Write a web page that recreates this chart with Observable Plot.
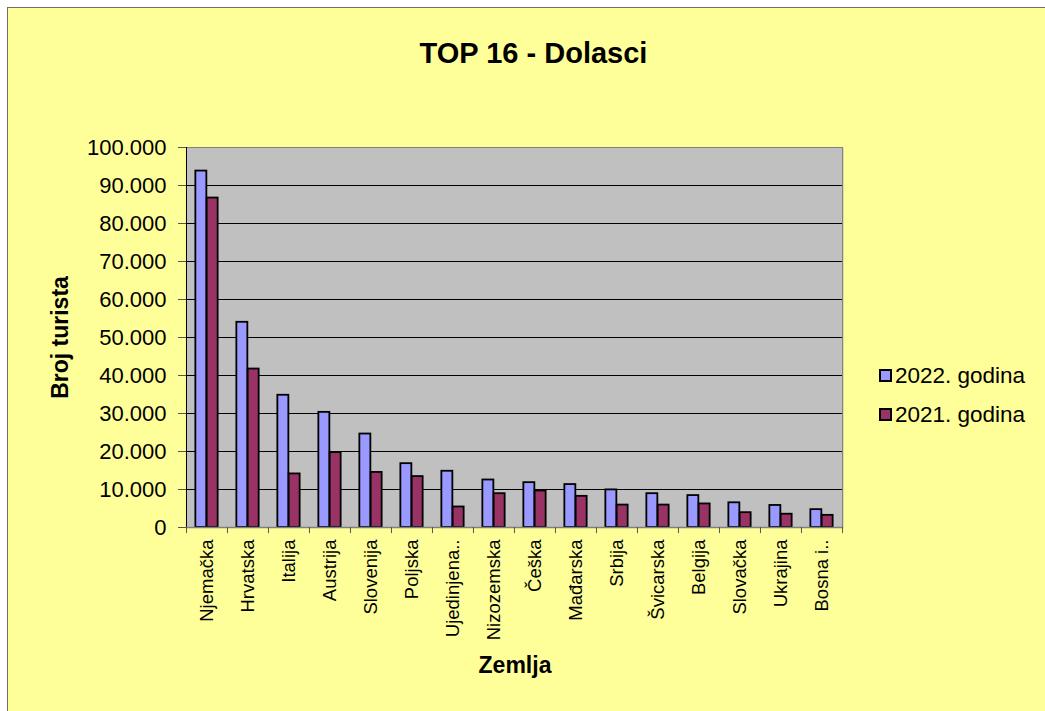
<!DOCTYPE html>
<html><head><meta charset="utf-8">
<script src="https://cdn.jsdelivr.net/npm/d3@7"></script>
<script src="https://cdn.jsdelivr.net/npm/@observablehq/plot@0.6"></script>
<style>
body{margin:0;background:#fff;width:1045px;height:711px;overflow:hidden;position:relative;font-family:"Liberation Sans",Arial,sans-serif;}
#bg{position:absolute;left:7px;top:7px;width:1050px;height:720px;background:#FFFF99;border:1.5px solid #6e6e6e;}
#chart{position:absolute;left:0;top:0;}
#title{position:absolute;left:0;width:1067px;top:37px;text-align:center;font-weight:bold;font-size:29px;color:#000;}
#legend{position:absolute;left:879px;top:356px;font-size:22.5px;color:#000;}
.row{display:flex;align-items:center;height:39px;}
.sw{width:9px;height:9px;border:2px solid #000;margin-right:3px;}
</style>
</head><body>
<div id="bg"></div>
<div id="chart"></div>
<div id="title">TOP 16 - Dolasci</div>
<div id="legend"></div>
<script>
const countries = ["Njemačka","Hrvatska","Italija","Austrija","Slovenija","Poljska","Ujedinjena..","Nizozemska","Češka","Mađarska","Srbija","Švicarska","Belgija","Slovačka","Ukrajina","Bosna i.."];
const v2022 = [93800,54000,34800,30300,24600,16800,14800,12500,11800,11300,9900,8900,8400,6500,5800,4700];
const v2021 = [86700,41700,14100,19700,14500,13400,5400,8900,9600,8200,5900,5900,6200,3900,3500,3200];
const seriesNames = ["2022. godina","2021. godina"];
const seriesColors = ["#9999FF","#993366"];
const yTicks = [0,10000,20000,30000,40000,50000,60000,70000,80000,90000,100000];

const W = 1045, H = 711, mL = 186, mR = 202, mT = 147, mB = 184;
const step = (W - mL - mR) / countries.length;
const padInner = 0.725;
const bw = step * (1 - padInner);

const rows = countries.map((c,i)=>({country:c, a:v2022[i], b:v2021[i]}));
const fmt = d => d3.format(",")(d).replace(/,/g,".");

const plot = Plot.plot({
  width: W, height: H,
  marginLeft: mL, marginRight: mR, marginTop: mT, marginBottom: mB,
  style: {background:"transparent", fontFamily:"'Liberation Sans', Arial, sans-serif", color:"#000"},
  x: {domain: countries, paddingInner: padInner, paddingOuter: padInner/2, label: null},
  y: {domain: [0,100000], label: null},
  marks: [
    Plot.frame({fill:"#C0C0C0", stroke:"none"}),
    Plot.ruleY(yTicks.filter(d=>d>0 && d<100000), {stroke:"#000", strokeWidth:1}),
    Plot.barY(rows, {x:"country", y:"a", dx:-bw/2, fill:seriesColors[0], stroke:"#000", strokeWidth:1.8}),
    Plot.barY(rows, {x:"country", y:"b", dx:bw/2, fill:seriesColors[1], stroke:"#000", strokeWidth:1.8}),
    Plot.ruleY([100000], {stroke:"#808080"}),
    Plot.ruleX([countries[countries.length-1]], {dx: step/2, y1:0, y2:100000, stroke:"#808080"}),
    Plot.ruleX([countries[0]], {dx: -step/2, y1:0, y2:100000, stroke:"#000"}),
    Plot.ruleY([0], {stroke:"#808080", strokeWidth:1.5}),
    Plot.ruleX(countries, {dx:-step/2, y1:0, y2:-1600, stroke:"#555"}),
    Plot.ruleX([countries[countries.length-1]], {dx:step/2, y1:0, y2:-1600, stroke:"#555"}),
    Plot.axisY({ticks: yTicks, tickFormat: fmt, tickSize: 8, tickPadding: 12, fontSize: 22, stroke:"#555",
      label: "Broj turista", labelAnchor: "center", labelOffset: 135}),
    Plot.axisX({tickSize: 0, tickRotate: -90, tickPadding: 12, fontSize: 18.5,
      label: "Zemlja", labelAnchor: "center", labelOffset: 145}),
  ]
});
plot.querySelectorAll("g[aria-label='y-axis label'] text, g[aria-label='x-axis label'] text").forEach(t=>{
  t.setAttribute("font-weight","bold"); t.setAttribute("font-size","23");
  t.querySelectorAll("tspan").forEach(ts=>{ if (/[→↑←↓]/.test(ts.textContent)) ts.remove(); });
  if (/[→↑←↓]/.test(t.textContent)) t.textContent = t.textContent.replace(/\s*[→↑←↓]\s*/g,"");
});
document.getElementById("chart").appendChild(plot);

const lg = document.getElementById("legend");
seriesNames.forEach((n,i)=>{
  const r = document.createElement("div"); r.className="row";
  const s = document.createElement("div"); s.className="sw"; s.style.background=seriesColors[i];
  const t = document.createElement("span"); t.textContent=n;
  r.appendChild(s); r.appendChild(t); lg.appendChild(r);
});
</script>
</body></html>
